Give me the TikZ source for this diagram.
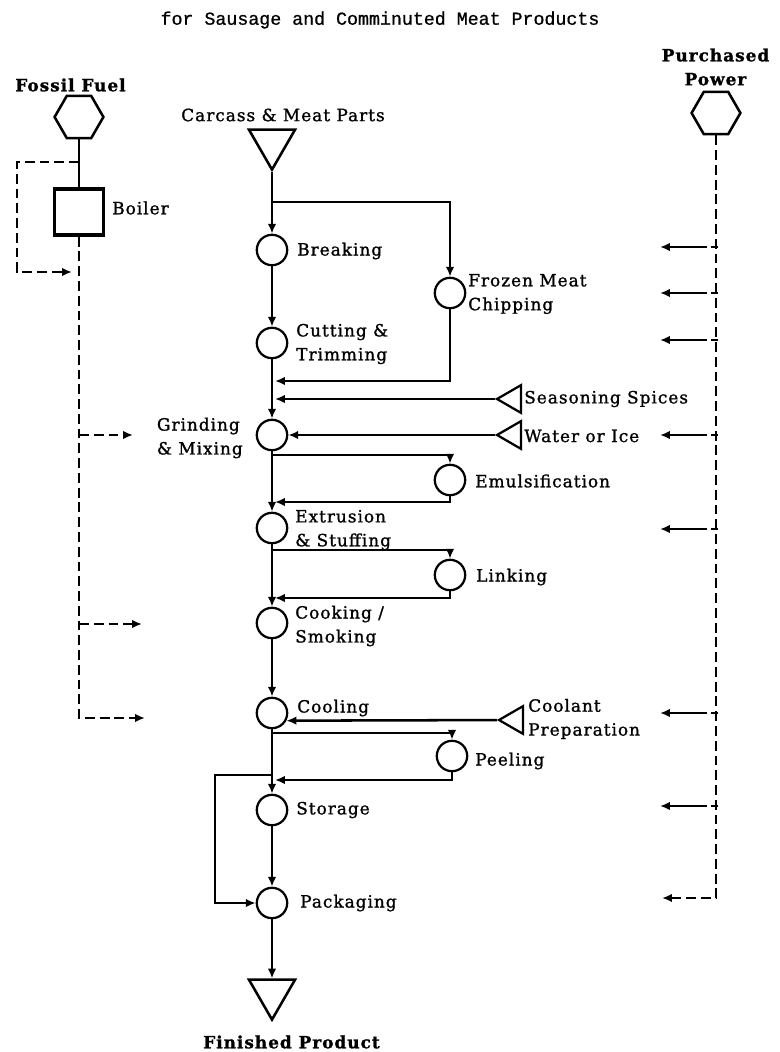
\documentclass[tikz,border=0pt]{standalone}
\usepackage{fontspec}
\setmainfont{DejaVu Serif}[LetterSpace=6, FakeBold=1.2]
\newfontfamily\titlefont{Liberation Mono}[FakeBold=0.8]
\usepackage{tikz}
\usetikzlibrary{arrows.meta, shapes.geometric, calc}

\begin{document}
\begin{tikzpicture}[x=0.025cm, y=-0.025cm,
    proc/.style={circle, draw, line width=1.6pt, minimum size=0.76cm, inner sep=0pt},
    source/.style={regular polygon, regular polygon sides=6, draw, line width=1.8pt, minimum size=1.22cm, inner sep=0pt},
    bigtri/.style={regular polygon, regular polygon sides=3, shape border rotate=180, draw, line width=1.8pt, minimum size=1.33cm, inner sep=0pt},
    feedtri/.style={regular polygon, regular polygon sides=3, shape border rotate=90, draw, line width=1.6pt, minimum size=0.8cm, inner sep=0pt},
    boilerbox/.style={rectangle, draw, line width=2.4pt, minimum width=1.22cm, minimum height=1.15cm},
    lbl/.style={font=\fontsize{12}{17}\selectfont, inner sep=0pt, align=left},
    titlelbl/.style={font=\titlefont\fontsize{13}{15}\selectfont, inner sep=0pt},
    flow/.style={line width=1.8pt, -{Latex[length=7pt,width=6pt]}},
    link/.style={line width=1.8pt},
    steam/.style={line width=1.8pt, dash pattern=on 7pt off 3.5pt},
    steamarr/.style={steam, -{Latex[length=7pt,width=6pt]}},
    elec/.style={line width=1.8pt, dash pattern=on 7pt off 3.5pt, -{Latex[length=7pt,width=6pt]}},
    elecbr/.style={line width=1.8pt, dash pattern=on 5pt off 3pt on 40pt off 1pt, -{Latex[length=7pt,width=6pt]}}]
  \useasboundingbox (0,0) rectangle (779,1052);
  % Titre
  \node[titlelbl] (title) at (380,20) {for Sausage and Comminuted Meat Products};

  % Combustible fossile et chaudiere
  \node[lbl, align=center] (fossillbl) at (71,85) {\textbf{Fossil Fuel}};
  \node[source] (fossil) at (79,117) {};
  \node[boilerbox] (boiler) at (79,212) {};
  \node[lbl, anchor=west] (boilerlbl) at (112,208) {Boiler};
  \draw[link] (fossil) -- (boiler);
  \coordinate (fl1) at (79,162);
  \coordinate (fl2) at (17,272);
  \coordinate (fl3) at (72,272);
  \draw[steamarr] (fl1) -| (fl2) -- (fl3);
  \coordinate (coolsteam) at (145,718);
  \draw[steamarr] (boiler) |- (coolsteam);
  \foreach \y/\xe [count=\i] in {435/133, 624/142} {
    \coordinate (sa\i) at (79,\y);
    \coordinate (sz\i) at (\xe,\y);
    \draw[steamarr] (sa\i) -- (sz\i);
  }

  % Electricite achetee
  \node[lbl, align=center] (powerlbl) at (716,67) {\textbf{Purchased}\\\textbf{Power}};
  \node[source] (power) at (716,113) {};
  \coordinate (pz0) at (662,898);
  \draw[elec] (power) |- (pz0);
  \foreach \y [count=\i] in {247, 293, 340, 435, 529, 713, 806} {
    \coordinate (pa\i) at (718,\y);
    \coordinate (pz\i) at (660,\y);
    \draw[elecbr] (pa\i) -- (pz\i);
  }

  % Matiere premiere
  \node[lbl] (carcasslbl) at (283,115) {Carcass \& Meat Parts};
  \node[bigtri] (carcass) at (272,143) {};

  % Etapes principales
  \node[proc] (breaking) at (272,250) {};
  \node[lbl, anchor=west] (breakinglbl) at (297,251) {Breaking};
  \node[proc] (cutting) at (272,343) {};
  \node[lbl, anchor=west] (cuttinglbl) at (296,344) {Cutting \&\\Trimming};
  \node[proc] (chipping) at (450,293) {};
  \node[lbl, anchor=west] (chippinglbl) at (468,294) {Frozen Meat\\Chipping};
  \node[feedtri] (seasoning) at (513,399) {};
  \node[lbl, anchor=west] (seasoninglbl) at (524,399) {Seasoning Spices};
  \node[feedtri] (water) at (513,435) {};
  \node[lbl, anchor=west] (waterlbl) at (524,436) {Water or Ice};
  \node[proc] (grinding) at (272,435) {};
  \node[lbl, anchor=east] (grindinglbl) at (243,438) {Grinding\\\& Mixing};
  \node[proc] (emulsification) at (450,480) {};
  \node[lbl, anchor=west] (emulsificationlbl) at (475,481) {Emulsification};
  \node[proc] (extrusion) at (272,528) {};
  \node[lbl, anchor=west] (extrusionlbl) at (295,530) {Extrusion\\\& Stuffing};
  \node[proc] (linking) at (450,575) {};
  \node[lbl, anchor=west] (linkinglbl) at (476,577) {Linking};
  \node[proc] (cooking) at (272,623) {};
  \node[lbl, anchor=west] (cookinglbl) at (295,626) {Cooking /\\Smoking};
  \node[proc] (cooling) at (272,713) {};
  \node[lbl, anchor=west] (coolinglbl) at (297,708) {Cooling};
  \node[feedtri] (coolant) at (515,720) {};
  \node[lbl, anchor=west] (coolantlbl) at (528,719) {Coolant\\Preparation};
  \node[proc] (peeling) at (452,756) {};
  \node[lbl, anchor=west] (peelinglbl) at (475,761) {Peeling};
  \node[proc] (storage) at (272,810) {};
  \node[lbl, anchor=west] (storagelbl) at (296,810) {Storage};
  \node[proc] (packaging) at (272,903) {};
  \node[lbl, anchor=west] (packaginglbl) at (300,903) {Packaging};
  \node[bigtri] (finished) at (272,993) {};
  \node[lbl] (finishedlbl) at (292,1042) {\textbf{Finished Product}};

  % Liaisons
  \coordinate (split) at (272,202);
  \draw[flow] (carcass) -- (breaking);
  \draw[flow] (split) -| (chipping);
  \draw[flow] (breaking) -- (cutting);
  \coordinate (ret1) at (275,381);
  \draw[flow] (chipping) |- (ret1);
  \draw[flow] (cutting) -- (grinding);
  \coordinate (ret2) at (275,399);
  \draw[flow] (seasoning) -- (ret2);
  \draw[flow] (water) -- (grinding);
  \coordinate (emin) at (272,455);
  \draw[flow] (emin) -| (emulsification);
  \coordinate (ret3) at (275,502);
  \draw[flow] (emulsification) |- (ret3);
  \draw[flow] (grinding) -- (extrusion);
  \coordinate (lkin) at (272,550);
  \draw[flow] (lkin) -| (linking);
  \coordinate (ret4) at (275,598);
  \draw[flow] (linking) |- (ret4);
  \draw[flow] (extrusion) -- (cooking);
  \draw[flow] (cooking) -- (cooling);
  \draw[flow] (coolant) -- (cooling.-28);
  \coordinate (plin) at (272,733);
  \draw[flow] (plin) -| (peeling);
  \coordinate (ret5) at (275,780);
  \draw[flow] (peeling) |- (ret5);
  \coordinate (byp) at (272,775);
  \coordinate (bypc) at (215,903);
  \draw[flow] (byp) -| (bypc) -- (packaging);
  \draw[flow] (cooling) -- (storage);
  \draw[flow] (storage) -- (packaging);
  \draw[flow] (packaging) -- (finished);
\end{tikzpicture}
\end{document}
